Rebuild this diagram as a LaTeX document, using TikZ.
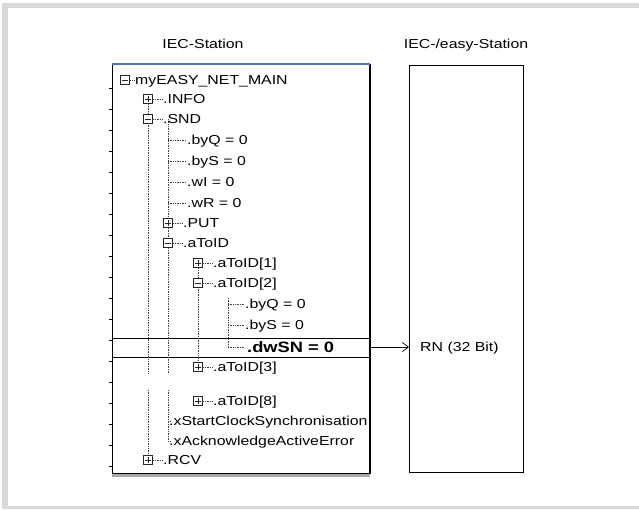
\documentclass[tikz,border=0pt]{standalone}
\usepackage{fontspec}
\setmainfont{Liberation Sans}[FakeStretch=1.22]
\usetikzlibrary{arrows.meta}
\definecolor{framegray}{HTML}{D9D9D9}
\definecolor{titleblue}{HTML}{5474B4}
\definecolor{shadowgray}{HTML}{A8A8A8}

\begin{document}
\begin{tikzpicture}[
    x=1pt, y=-1pt,
    every node/.style={font=\fontsize{13}{15}\selectfont, inner sep=0pt},
    entry/.style={anchor=west, text height=9.3pt, text depth=0pt},
    hotentry/.style={entry, text height=10.8pt, font=\fontsize{15}{17}\selectfont\bfseries},
    station/.style={rectangle, draw=black, line width=1.3pt, anchor=north west},
    toggle/.style={rectangle, draw=black!85, fill=white, minimum size=9.5pt, line width=0.75pt},
    plusbox/.style={toggle, path picture={\draw[line width=0.8pt] ([xshift=2pt]path picture bounding box.west) -- ([xshift=-2pt]path picture bounding box.east) ([yshift=-2pt]path picture bounding box.north) -- ([yshift=2pt]path picture bounding box.south);}},
    minusbox/.style={toggle, path picture={\draw[line width=0.8pt] ([xshift=2pt]path picture bounding box.west) -- ([xshift=-2pt]path picture bounding box.east);}},
    guide/.style={black!75, line width=0.6pt, dash pattern=on 0.8pt off 0.9pt},
    arrow/.style={-{Straight Barb[length=6pt,width=9pt]}, line width=0.7pt}
]
% frame
\fill[white] (0,0) rectangle (639,509);
\fill[framegray] (2,3) rectangle (639,509);
\fill[white] (8,8) rectangle (639,506);
\useasboundingbox (0,0) rectangle (639,509);

\node (lefttitle) at (203,44) {IEC-Station};
\node (righttitle) at (466,45) {IEC-/easy-Station};

% stations
\fill[shadowgray] (112,473) rectangle (370,477);
\node (iec) [station, line width=0.9pt, minimum width=257pt, minimum height=409pt] at (112,64) {};
\draw[line width=1.3pt] (iec.north east) -- (iec.south east);
\draw[titleblue, line width=2pt] (iec.north west) -- (iec.north east);
\node (easy) [station, minimum width=114pt, minimum height=407pt] at (409,65) {};
\foreach \y in {88,109,...,466}
    \draw[line width=0.6pt] (109,\y) -- (112,\y);

% selected row
\draw[line width=1pt] (112,338) -- (369,338);
\draw[line width=1pt] (112,357) -- (369,357);

% tree lines
\draw[guide] (148,99) -- (148,373) (148,390) -- (148,460);
\draw[guide] (168,119) -- (168,373) (168,390) -- (168,441) -- (170,441);
\draw[guide] (168,421) -- (170,421);
\draw[guide] (198,263) -- (198,367);
\draw[guide] (228,298) -- (228,347);
\foreach \y in {140,161,182,203}
    \draw[guide] (168,\y) -- (186,\y);
\foreach \y in {304,325,347}
    \draw[guide] (228,\y) -- (244,\y);

% toggles
\node (main-t) [minusbox] at (125,80) {};
\node (info-t) [plusbox] at (148,99) {};
\node (snd-t) [minusbox] at (148,119) {};
\node (put-t) [plusbox] at (168,223) {};
\node (atoid-t) [minusbox] at (168,243) {};
\node (atoid1-t) [plusbox] at (198,263) {};
\node (atoid2-t) [minusbox] at (198,283) {};
\node (atoid3-t) [plusbox] at (198,367) {};
\node (atoid8-t) [plusbox] at (198,401) {};
\node (rcv-t) [plusbox] at (148,460) {};

% entries
\node (main) [entry] at (135,80) {myEASY\_NET\_MAIN};
\node (info) [entry] at (163,99) {.INFO};
\node (snd) [entry] at (163,119) {.SND};
\node (byq) [entry] at (187,140) {.byQ = 0};
\node (bys) [entry] at (187,161) {.byS = 0};
\node (wi) [entry] at (187,182) {.wI = 0};
\node (wr) [entry] at (187,203) {.wR = 0};
\node (put) [entry] at (183,223) {.PUT};
\node (atoid) [entry] at (183,243) {.aToID};
\node (atoid1) [entry] at (213,263) {.aToID[1]};
\node (atoid2) [entry] at (213,283) {.aToID[2]};
\node (byq2) [entry] at (245,304) {.byQ = 0};
\node (bys2) [entry] at (245,325) {.byS = 0};
\node (dwsn) [hotentry] at (247,347) {.dwSN = 0};
\node (atoid3) [entry] at (213,367) {.aToID[3]};
\node (atoid8) [entry] at (213,401) {.aToID[8]};
\node (xstart) [entry] at (169,421) {.xStartClockSynchronisation};
\node (xack) [entry] at (169,441) {.xAcknowledgeActiveError};
\node (rcv) [entry] at (163,460) {.RCV};

\draw[guide] (main-t) -- (main);
\draw[guide] (info-t) -- (info);
\draw[guide] (snd-t) -- (snd);
\draw[guide] (put-t) -- (put);
\draw[guide] (atoid-t) -- (atoid);
\draw[guide] (atoid1-t) -- (atoid1);
\draw[guide] (atoid2-t) -- (atoid2);
\draw[guide] (atoid3-t) -- (atoid3);
\draw[guide] (atoid8-t) -- (atoid8);
\draw[guide] (rcv-t) -- (rcv);

% link
\draw[arrow] (iec.east |- dwsn.west) -- (easy.west |- dwsn.west);
\node (rn) [entry] at ([xshift=11pt]easy.west |- dwsn.west) {RN (32 Bit)};
\end{tikzpicture}
\end{document}
